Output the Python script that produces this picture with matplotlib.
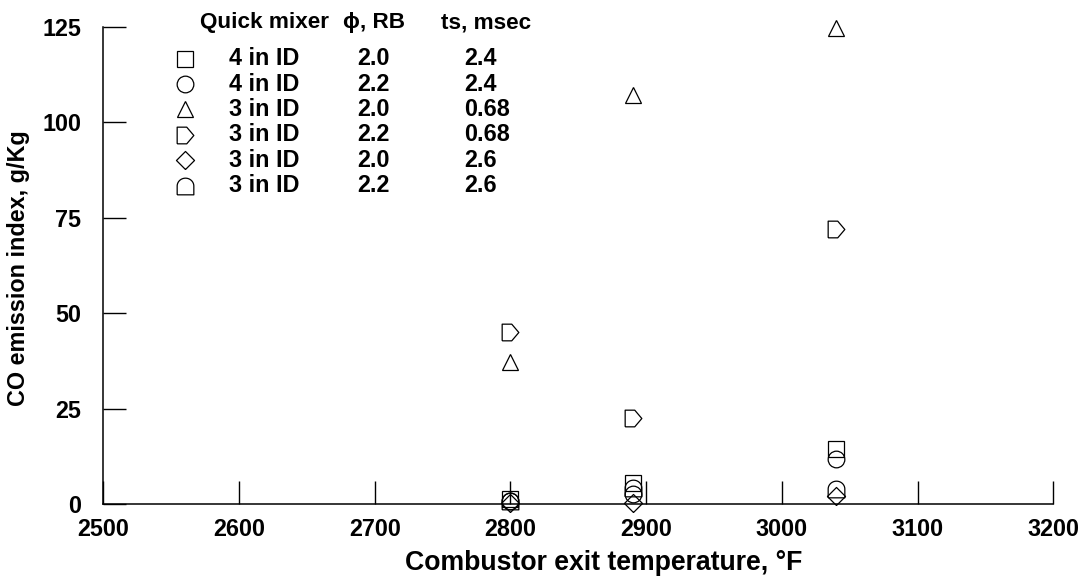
import numpy as np
import matplotlib
matplotlib.use("Agg")
import matplotlib.pyplot as plt
from matplotlib.path import Path

plt.rcParams['font.family'] = ['Liberation Sans', 'DejaVu Sans']
plt.rcParams['font.weight'] = 'bold'

# data
temps = [2800, 2890, 3040]
co_square = [1.2, 5.6, 14.4]      # 4 in ID, 2.0, 2.4
co_circle = [0.8, 2.6, 11.7]      # 4 in ID, 2.2, 2.4
co_triangle = [37.3, 107.1, 124.7]  # 3 in ID, 2.0, 0.68
co_pent = [45.0, 22.5, 72.0]      # 3 in ID, 2.2, 0.68
co_diamond = [0.3, 0.2, 2.2]      # 3 in ID, 2.0, 2.6
co_dome = [0.8, 4.1, 4.0]         # 3 in ID, 2.2, 2.6

mixers = ['4 in ID', '4 in ID', '3 in ID', '3 in ID', '3 in ID', '3 in ID']
phis = ['2.0', '2.2', '2.0', '2.2', '2.0', '2.2']
ts = ['2.4', '2.4', '0.68', '0.68', '2.6', '2.6']

# custom marker shapes
pent = Path([(-1, -1), (0.15, -1), (1, 0), (0.15, 1), (-1, 1), (-1, -1)])
diamond = Path([(0, -1), (1, 0), (0, 1), (-1, 0), (0, -1)])
th = np.linspace(0, np.pi, 30)
dome_pts = [(-1, -1), (1, -1)] + [(np.cos(t), 0.05 + 0.95 * np.sin(t)) for t in th] + [(-1, -1)]
dome = Path(dome_pts)

series = [
    (co_square, 's', 12),
    (co_circle, 'o', 12),
    (co_triangle, '^', 11),
    (co_pent, pent, 12),
    (co_diamond, diamond, 13),
    (co_dome, dome, 12),
]

FS = 16.8

fig = plt.figure(figsize=(10.89, 5.78), dpi=100)
ax = fig.add_axes([103.3 / 1089, 1 - 504 / 578, 950 / 1089, 477.3 / 578])

for vals, m, ms in series:
    ax.plot(temps, vals, linestyle='none', marker=m, markersize=ms,
            markerfacecolor='none', markeredgecolor='black', markeredgewidth=0.9,
            clip_on=False)

ax.set_xlim(2500, 3200)
ax.set_ylim(0, 125)
ax.set_xticks(np.arange(2500, 3201, 100))
ax.set_yticks(np.arange(0, 126, 25))
ax.spines['top'].set_visible(False)
ax.spines['right'].set_visible(False)
for s in ['left', 'bottom']:
    ax.spines[s].set_linewidth(1.1)
ax.tick_params(axis='both', direction='in', length=16.5, width=1.0, labelsize=FS)
ax.tick_params(axis='x', pad=10)
ax.tick_params(axis='y', pad=16)

fig.text(405 / 1089, 1 - 563 / 578, 'Combustor exit temperature, °F',
         ha='left', va='center', fontsize=19.2)
fig.text(19 / 1089, 1 - 268 / 578, 'CO emission index, g/Kg',
         ha='center', va='center', rotation=90, fontsize=FS)

# table-style legend
hdr_y = 126.0
ax.text(2571.4, hdr_y, 'Quick mixer', fontsize=16.2, va='center', ha='left')
ax.text(2676.6, hdr_y, 'ϕ, RB', fontsize=16.2, va='center', ha='left')
ax.text(2748.8, hdr_y, 'ts, msec', fontsize=16.2, va='center', ha='left')
row_y = 116.6 - 6.64 * np.arange(6)
for i, (vals, m, ms) in enumerate(series):
    ax.plot([2560], [row_y[i]], linestyle='none', marker=m, markersize=ms,
            markerfacecolor='none', markeredgecolor='black', markeredgewidth=0.9,
            clip_on=False)
    ax.text(2592.6, row_y[i], mixers[i], fontsize=FS, va='center', ha='left')
    ax.text(2687, row_y[i], phis[i], fontsize=FS, va='center', ha='left')
    ax.text(2766, row_y[i], ts[i], fontsize=FS, va='center', ha='left')

fig.savefig('out.png', dpi=100)
